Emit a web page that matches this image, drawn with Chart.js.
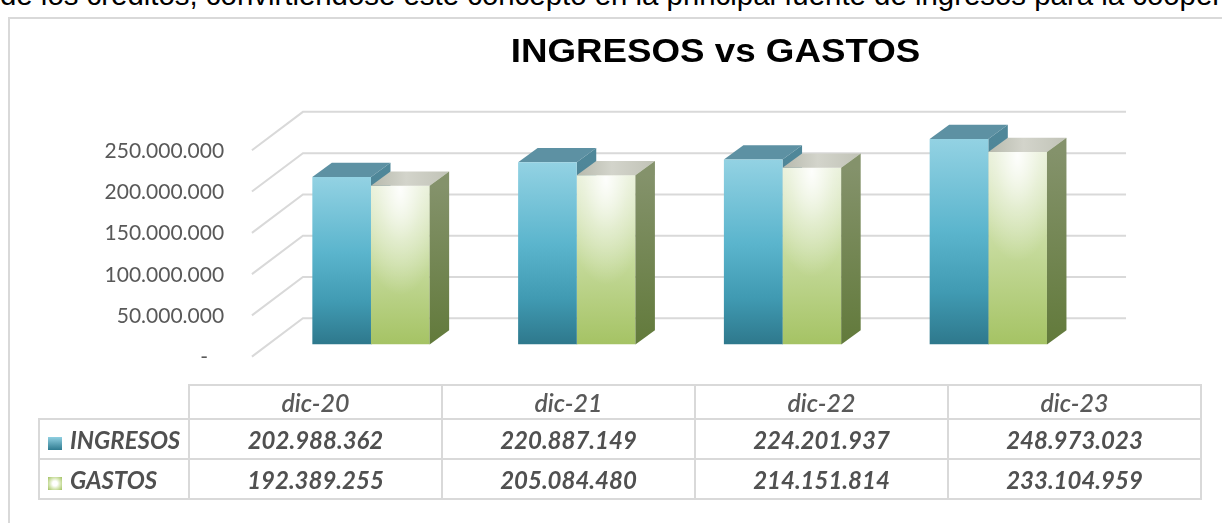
<!DOCTYPE html>
<html>
<head>
<meta charset="utf-8">
<script src="https://cdn.jsdelivr.net/npm/chart.js@4.4.1/dist/chart.umd.min.js"></script>
<style>
	html, body { margin: 0; padding: 0; background: #fff; width: 1222px; height: 523px; overflow: hidden; position: relative; }
	#doc { position: absolute; left: 0; top: -22px; white-space: nowrap; font: 29.4px "Liberation Sans", Arial, sans-serif; color: #000; line-height: 34px; }
	#frame { position: absolute; left: 8px; top: 17px; width: 1400px; height: 600px; border-left: 2px solid #d9d9d9; border-top: 2px solid #d9d9d9; }
	#chart { position: absolute; left: 0; top: 0; }
	#dataTable { position: absolute; left: 38px; top: 384px; border-collapse: collapse; table-layout: fixed; width: 1164px; font-family: Lato, "Open Sans", sans-serif; color: #505050; }
	#dataTable th, #dataTable td { border: 2px solid #d9d9d9; padding: 0; text-align: center; font-style: italic; font-size: 24px; white-space: nowrap; }
	#dataTable th { height: 32px; font-weight: 600; font-size: 25px; color: #595959; }
	#dataTable td { height: 38px; font-weight: bold; }
	#dataTable th.corner { border-top: none; border-left: none; }
	#dataTable td.name { text-align: left; padding-left: 8px; }
	.key { display: inline-block; width: 14px; height: 13px; margin-right: 8px; vertical-align: -1px; }
	.key-ing { background: linear-gradient(#8fcfe1, #2f7b90); }
	.key-gas { background: radial-gradient(circle, #ffffff 25%, #d3e4ae 60%, #a0c060 100%); }
</style>
</head>
<body>
<div id="doc">de los créditos, convirtiéndose este concepto en la principal fuente de ingresos para la cooperativa</div>
<div id="frame"></div>
<canvas id="chart" width="1222" height="523"></canvas>
<table id="dataTable"></table>
<script>
	'use strict';
	const chartTitle = 'INGRESOS vs GASTOS';
	const categories = [ 'dic-20', 'dic-21', 'dic-22', 'dic-23' ];
	const ingresos = [ 202988362, 220887149, 224201937, 248973023 ];
	const gastos = [ 192389255, 205084480, 214151814, 233104959 ];
	const yMin = 0;
	const yMax = 250000000;
	const yStep = 50000000;

	// 3d look: back wall depth and bar depth
	const wall = { dx: 51, dy: -38.4, front: 0.317 };
	const barDepth = { dx: 19.5, dy: -14.2 };
	const faceStyle = [
		{ top: '#5d91a3', sideTop: '#4f8799', sideBottom: '#3d7384' },
		{ top: [ '#b7baad', '#d3d4cb', '#c1c3b7' ], sideTop: '#84926b', sideBottom: '#627a3b' }
	];

	const fmt = v => String(v).replace(/\B(?=(\d{3})+(?!\d))/g, '.');

	const barGradient = function (c, stops, fallback) {
		const y = c.chart.scales.y;
		if (!y || typeof c.raw !== 'number') return fallback;
		const top = y.getPixelForValue(c.raw), bottom = y.getPixelForValue(0);
		if (!Number.isFinite(top) || !Number.isFinite(bottom) || top === bottom) return fallback;
		const g = c.chart.ctx.createLinearGradient(0, top, 0, bottom);
		stops.forEach(s => g.addColorStop(s[0], s[1]));
		return g;
	};

	const frontIngresos = c => barGradient(c, [ [ 0, '#93d2e3' ], [ 0.45, '#5bb5cd' ], [ 0.75, '#409ab2' ], [ 1, '#2e788c' ] ], '#4bacc6');
	const frontGastos = c => barGradient(c, [ [ 0, '#e2ecce' ], [ 0.5, '#c5da9b' ], [ 1, '#a5c364' ] ], '#c6da9c');

	const drawFaces = function (chart, index) {
		const ctx = chart.ctx;
		const meta = chart.getDatasetMeta(index);
		const st = faceStyle[index];
		const dx = barDepth.dx, dy = barDepth.dy;
		meta.data.forEach(bar => {
			const { x, y, base, width } = bar.getProps([ 'x', 'y', 'base', 'width' ], true);
			if (![ x, y, base, width ].every(Number.isFinite)) return;
			const l = x - width / 2, r = x + width / 2;
			ctx.save();

			if (index === 1) {
				// soft light on the green front
				ctx.save();
				ctx.beginPath();
				ctx.rect(l, y, width, base - y);
				ctx.clip();
				ctx.translate(x, y + 4);
				ctx.scale(1, 2.4);
				const rg = ctx.createRadialGradient(0, 0, 0, 0, 0, width * 0.75);
				rg.addColorStop(0, 'rgba(255,255,255,0.95)');
				rg.addColorStop(0.5, 'rgba(255,255,255,0.4)');
				rg.addColorStop(1, 'rgba(255,255,255,0)');
				ctx.fillStyle = rg;
				ctx.fillRect(-width, -10, width * 2, (base - y) / 2.4 + 10);
				ctx.restore();
			}

			ctx.beginPath();
			ctx.moveTo(l, y);
			ctx.lineTo(l + dx, y + dy);
			ctx.lineTo(r + dx, y + dy);
			ctx.lineTo(r, y);
			ctx.closePath();
			if (Array.isArray(st.top)) {
				const tg = ctx.createLinearGradient(l, 0, r + dx, 0);
				tg.addColorStop(0, st.top[0]);
				tg.addColorStop(0.45, st.top[1]);
				tg.addColorStop(1, st.top[2]);
				ctx.fillStyle = tg;
			} else {
				ctx.fillStyle = st.top;
			}
			ctx.fill();

			ctx.beginPath();
			ctx.moveTo(r, y);
			ctx.lineTo(r + dx, y + dy);
			ctx.lineTo(r + dx, base + dy);
			ctx.lineTo(r, base);
			ctx.closePath();
			const sg = ctx.createLinearGradient(0, y, 0, base);
			sg.addColorStop(0, st.sideTop);
			sg.addColorStop(1, st.sideBottom);
			ctx.fillStyle = sg;
			ctx.fill();
			ctx.restore();
		});
	};

	// back wall grid, then the hidden faces of the first series before the fronts are drawn
	const depth3d = {
		id: 'depth3d',
		beforeDatasetsDraw(chart) {
			const { ctx, chartArea: a, scales: { y } } = chart;
			const fx = -wall.dx * wall.front, fy = -wall.dy * wall.front;
			const bx = wall.dx * (1 - wall.front), by = wall.dy * (1 - wall.front);
			ctx.save();
			ctx.strokeStyle = '#d9d9d9';
			ctx.lineWidth = 2;
			y.ticks.forEach(t => {
				const py = y.getPixelForValue(t.value);
				ctx.beginPath();
				ctx.moveTo(a.left + fx, py + fy);
				ctx.lineTo(a.left + bx, py + by);
				ctx.lineTo(a.right + bx, py + by);
				ctx.stroke();
			});
			ctx.restore();
			drawFaces(chart, 0);
		},
		afterDatasetsDraw(chart) {
			drawFaces(chart, 1);
		}
	};

	const titlePlugin = {
		id: 'bigTitle',
		afterDraw(chart) {
			const ctx = chart.ctx;
			ctx.save();
			ctx.translate(715.5, 62);
			ctx.scale(1.08, 1);
			ctx.font = 'bold 34px "Liberation Sans", Arial, sans-serif';
			ctx.textAlign = 'center';
			ctx.textBaseline = 'alphabetic';
			ctx.fillStyle = '#000';
			ctx.fillText(chartTitle, 0, 0);
			ctx.restore();
		}
	};

	new Chart(document.getElementById('chart'), {
		type: 'bar',
		data: {
			labels: categories,
			datasets: [
				{ label: 'INGRESOS', data: ingresos, backgroundColor: frontIngresos, borderWidth: 0 },
				{ label: 'GASTOS', data: gastos, backgroundColor: frontGastos, borderWidth: 0 }
			]
		},
		options: {
			responsive: false,
			animation: false,
			devicePixelRatio: 1,
			layout: { padding: { left: 0, top: 138.1, right: 130.8, bottom: 178.5 } },
			datasets: { bar: { categoryPercentage: 0.57, barPercentage: 1 } },
			plugins: {
				legend: { display: false },
				tooltip: { enabled: false },
				title: { display: false }
			},
			scales: {
				x: { display: false },
				y: {
					min: yMin,
					max: yMax,
					afterFit: s => { s.width = 268.1; },
					grid: { display: false, drawTicks: false },
					border: { display: false },
					ticks: {
						stepSize: yStep,
						padding: 44,
						labelOffset: 13,
						color: '#595959',
						font: { family: 'Lato', size: 21 },
						callback: v => v === 0 ? '-\u00a0\u00a0\u00a0' : fmt(v)
					}
				}
			}
		},
		plugins: [ depth3d, titlePlugin ]
	});

	// data table under the chart
	const table = document.getElementById('dataTable');
	let html = '<colgroup><col style="width:150px">' + categories.map(() => '<col>').join('') + '</colgroup>';
	html += '<tr><th class="corner"></th>' + categories.map(c => `<th>${ c }</th>`).join('') + '</tr>';
	html += '<tr><td class="name"><span class="key key-ing"></span>INGRESOS</td>' + ingresos.map(v => `<td>${ fmt(v) }</td>`).join('') + '</tr>';
	html += '<tr><td class="name"><span class="key key-gas"></span>GASTOS</td>' + gastos.map(v => `<td>${ fmt(v) }</td>`).join('') + '</tr>';
	table.innerHTML = html;
</script>
</body>
</html>
